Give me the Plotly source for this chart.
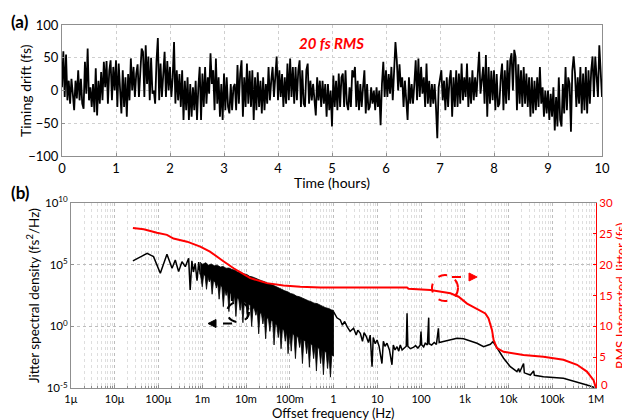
import plotly.graph_objects as go

# ---------------- panel (a): timing drift ----------------
drift_t0 = 0.0      # hours
drift_dt = 0.025    # hours per sample
drift_fs = [
    5, 60, -10, 55, -15, 15, -20, 18, -5, -30, 15, -12, 31, -15, 18, -20,
    -28, 44, -5, 64, -15, 5, -25, 10, -33, 34, -38, 15, -20, 28, -15, 44,
    5, 45, -20, 30, 46, -15, 36, 0, 46, -25, 41, -10, -35, 31, -25, 20,
    -40, 25, -15, 49, 0, 36, -10, 26, 40, -10, 30, 64, 59, -10, 69, 10,
    52, -15, 50, -5, 0, -20, 45, 80, -15, 41, -10, 30, 59, -10, 45, 0,
    36, -10, 20, 74, -20, 31, -15, 25, -25, 31, -45, 15, -30, 20, -45, 10,
    -40, 5, -30, 15, -45, 5, 36, -45, 26, -25, 36, -20, 20, -5, 57, 10,
    31, -30, 49, -20, 20, -40, 10, -45, 26, -30, 20, -25, -35, 10, -30, 5,
    10, -30, 39, -20, 26, 46, -40, 20, -25, 41, -20, 30, -25, 31, -45, 20,
    -30, 28, -25, 15, -35, 20, -30, 10, -20, 36, -15, 15, 36, -10, 30, 52,
    -15, 31, -10, 25, -25, 20, -20, 41, -15, 49, -10, 36, -20, 36, -15, 30,
    46, -25, 31, -20, -25, 31, 41, -20, 15, -15, 10, -10, -38, 20, -15, 15,
    -25, 15, -20, 10, -40, 10, -30, 0, -55, 23, -25, 15, -30, 26, -25, 20,
    26, -25, 31, -20, -30, 5, -25, 31, 20, 36, -25, 15, -30, 10, -25, 5,
    31, -35, 10, -30, -25, 5, -20, 0, -30, 5, -25, 0, -53, 10, 44, -10,
    31, -10, 25, -5, 36, -15, 30, 74, 46, 0, 40, 5, 20, -25, 15, -20,
    -45, 20, -20, 10, -20, 10, 46, -15, 49, -10, 36, -5, 20, -25, 41, -20,
    15, -25, 10, -20, 10, -25, -73, 5, 20, 31, -15, 15, -30, 20, -25, 15,
    31, -40, 20, -25, 31, -25, 26, -20, 41, -15, 20, -10, 41, -25, 20, -20,
    31, -15, 20, -10, 26, 59, -5, 20, 36, -20, 54, -40, 36, -20, 30, -15,
    31, -30, 25, -25, -20, 20, 41, -30, 31, -20, 46, -15, 46, 57, 0, 62,
    51, -30, 40, -20, 31, -25, 36, -20, 26, -25, 20, -40, 20, -35, 15, -30,
    20, -25, 36, -20, 5, -40, 0, -35, 0, -45, -5, -40, 5, -61, -10, -55,
    20, -45, -55, 10, -35, 36, -30, 20, 10, -63, 30, 52, 26, -25, 20, -20,
    36, -35, 26, -30, 36, -35, 31, -20, 30, 52, -10, 52, 20, -10, 69, 36,
    -10,
]

# ---------------- panel (b): RMS integrated jitter (right axis, fs) ----------------
rms_freq = [2.6e-5, 4.6e-5, 9.2e-5, 1.56e-4, 2.2e-4, 4.5e-4, 9e-4, 1.5e-3, 3.1e-3,
            5.2e-3, 0.0125, 0.030, 0.072, 0.174, 0.5, 48, 52, 163, 470, 724, 1130,
            1900, 2950, 3500, 4200, 4570, 5460, 7700, 22000, 63000, 1.8e5, 3.7e5,
            6.2e5, 8.8e5, 1e6]
rms_fs = [25.9, 25.7, 25.15, 24.8, 24.2, 23.7, 22.9, 22.1, 20.5,
          19.4, 17.8, 17.0, 16.6, 16.4, 16.3, 16.3, 16.1, 15.9, 15.35, 14.8, 13.7,
          12.9, 12.1, 11.3, 9.4, 7.8, 6.5, 5.9, 5.4, 5.1, 4.6, 3.8,
          2.7, 1.3, 0.0]

# ---------------- panel (b): jitter spectral density (left axis, log10 of fs^2/Hz) ----------------
psd_low_freq = [2.6e-5, 5.5e-5, 7.7e-5, 1.1e-4, 1.56e-4, 2.04e-4, 2.42e-4, 2.88e-4, 3.44e-4,
                4.1e-4, 4.88e-4, 5.3e-4, 5.8e-4, 6.3e-4, 6.9e-4, 7.6e-4, 8.3e-4, 9e-4]
psd_low_log = [5.3, 5.9, 5.64, 4.3, 5.83, 4.7, 5.37, 4.43, 5.23,
               4.83, 5.51, 2.95, 5.3, 4.4, 5.1, 3.7, 5.2, 4.2]

# dense region 1 mHz .. 1 Hz: upper envelope and lower (spiky) envelope
band_hi_freq = [9e-4, 1.0e-3, 1.2e-3, 1.4e-3, 1.6e-3, 1.9e-3, 2.2e-3, 2.6e-3, 3.0e-3, 3.5e-3,
                4.1e-3, 4.8e-3, 5.6e-3, 6.5e-3, 7.6e-3, 8.9e-3, 0.0104, 0.0121, 0.0141, 0.0165,
                0.0192, 0.0224, 0.0262, 0.0305, 0.0356, 0.0415, 0.0485, 0.0566, 0.066, 0.077,
                0.09, 0.105, 0.122, 0.143, 0.167, 0.195, 0.227, 0.265, 0.309, 0.36,
                0.42, 0.49, 0.57, 0.67, 0.78, 0.91, 1.0]
band_hi_log = [5.2, 5.0, 5.15, 4.95, 5.05, 4.9, 4.95, 4.8, 4.85, 4.7,
               4.72, 4.6, 4.55, 4.4, 4.38, 4.25, 4.2, 4.05, 4.0, 3.88,
               3.8, 3.7, 3.62, 3.5, 3.45, 3.33, 3.25, 3.1, 3.02, 2.88,
               2.8, 2.66, 2.6, 2.45, 2.4, 2.28, 2.2, 2.08, 2.0, 1.88,
               1.85, 1.7, 1.62, 1.5, 1.45, 1.33, 1.3]
band_lo_freq = [
    9.0e-4, 1.0e-3, 1.08e-3, 1.16e-3, 1.25e-3, 1.35e-3, 1.45e-3, 1.56e-3, 1.68e-3, 1.81e-3,
    1.95e-3, 2.1e-3, 2.26e-3, 2.43e-3, 2.61e-3, 2.81e-3, 3.03e-3, 3.26e-3, 3.51e-3, 3.78e-3,
    4.07e-3, 4.38e-3, 4.71e-3, 5.07e-3, 5.46e-3, 5.88e-3, 6.33e-3, 6.81e-3, 7.33e-3, 7.89e-3,
    8.5e-3, 9.15e-3,
    1.0e-2, 1.08e-2, 1.16e-2, 1.25e-2, 1.35e-2, 1.45e-2, 1.56e-2, 1.68e-2, 1.81e-2, 1.95e-2,
    2.1e-2, 2.26e-2, 2.43e-2, 2.61e-2, 2.81e-2, 3.03e-2, 3.26e-2, 3.51e-2, 3.78e-2, 4.07e-2,
    4.38e-2, 4.71e-2, 5.07e-2, 5.46e-2, 5.88e-2, 6.33e-2, 6.81e-2, 7.33e-2, 7.89e-2, 8.5e-2,
    9.15e-2,
    0.100, 0.108, 0.116, 0.125, 0.135, 0.145, 0.156, 0.168, 0.181, 0.195,
    0.21, 0.226, 0.243, 0.261, 0.281, 0.303, 0.326, 0.351, 0.378, 0.407,
    0.438, 0.471, 0.507, 0.546, 0.588, 0.633, 0.681, 0.733, 0.789, 0.85,
    0.915, 1.0,
]
band_lo_log = [
    4.3, 3.2, 4.2, 4.1, 3.0, 4.0, 3.6, 3.9, 2.6, 3.7,
    3.6, 3.1, 3.5, 2.2, 3.3, 3.2, 1.6, 3.0, 2.5, 2.9,
    1.2, 2.7, 2.6, 1.9, 2.5, 0.8, 2.3, 2.2, 1.3, 2.1,
    0.3, 2.0,
    1.9, 0.6, 1.8, 1.7, 0.0, 1.5, 1.4, 0.9, 1.3, -0.6,
    1.1, 1.0, 0.2, 0.9, -1.0, 0.7, 0.6, -0.4, 0.5, 0.4,
    -1.5, 0.2, 0.1, -0.9, 0.0, -1.8, -0.2, -0.3, -1.2, -0.4,
    -2.2,
    -0.5, -2.0, -0.6, -0.7, -2.6, -0.8, -0.9, -1.7, -1.0, -3.0,
    -1.1, -1.2, -2.2, -1.3, -3.3, -1.4, -1.5, -2.6, -1.6, -3.6,
    -1.7, -1.8, -3.0, -1.9, -3.9, -2.0, -2.1, -3.4, -2.2, -4.1,
    -2.3, -2.4,
]

psd_high_freq = [1.0, 1.2, 1.43, 1.6, 1.8, 2.04, 2.4, 2.88, 3.3, 3.6, 4.1, 4.6, 5.0, 5.6, 6.3,
                 6.9, 7.6, 8.1, 9.0, 9.9, 11, 12.8, 13.8, 15, 16.7, 19, 21.7, 23.3, 25.5, 28.3,
                 31, 33.6, 37, 40, 46, 48, 50, 57, 66.7, 75, 85, 96, 100, 104, 115, 125, 140,
                 150, 153, 175, 200, 225, 250, 260, 300, 329, 468, 665, 942, 1340, 1905, 2700,
                 3840, 4420, 5460, 7730, 11000, 15600, 17000, 18000, 22100, 23000, 31500,
                 37500, 39000, 63000, 1.8e5, 3.7e5, 6.2e5, 1e6]
psd_high_log = [1.19, 0.7, 0.52, 0.1, 0.4, -0.02, -0.4, -0.15, -0.7, -0.3, -0.55, -1.2, -0.5, -0.8, -1.3,
                -0.7, -3.25, -0.9, -1.4, -1.1, -1.6, -3.0, -1.2, -1.6, -1.36, -1.9, -3.1, -1.5, -1.9, -1.64,
                -2.0, -1.5, -1.9, -1.77, -1.6, 1.06, -1.6, -1.8, -1.7, -1.55, -1.75, -1.5, -0.42, -1.5, -1.65, -1.35, -1.5,
                0.71, -1.4, -1.5, -1.3, -1.45, -0.15, -1.3, -1.25, -1.23, -1.05, -0.96, -1.0, -1.15, -1.36, -1.64,
                -1.44, -1.23, -1.77, -2.57, -3.25, -3.66, -3.4, -3.7, -3.0, -3.75, -3.93,
                -3.6, -3.95, -4.06, -4.19, -4.47, -4.73, -4.98]

freq_tick_vals = [1e-6, 1e-5, 1e-4, 1e-3, 1e-2, 1e-1, 1, 10, 100, 1e3, 1e4, 1e5, 1e6]
freq_tick_text = ["1µ", "10µ", "100µ", "1m", "10m", "100m", "1", "10", "100", "1k", "10k", "100k", "1M"]
psd_tick_vals = [1e-5, 1, 1e5, 1e10]
psd_tick_text = ["10<sup>-5</sup>", "10<sup>0</sup>", "10<sup>5</sup>", "10<sup>10</sup>"]
rms_tick_vals = [0, 5, 10, 15, 20, 25, 30]
rms_tick_text = ["", "5", "10", "15", "20", "25", "30"]   # "0" drawn as a note, clear of "1M"

# ---------------- figure ----------------
FONT = "Lato, 'Open Sans', sans-serif"
GRID = "#cfcfcf"
FRAME = "#8f8f8f"
RED = "#ff0000"

# the page body adds an 8 px margin: lay out in window pixels and convert
OFF = 8
W, H = 630 - OFF, 420 - OFF

def PX(px):
    return (px - OFF) / W

def PY(py):
    return 1 - (py - OFF) / H

def P(px, py):
    return PX(px), PY(py)

fig = go.Figure()

fig.add_trace(go.Scatter(x0=drift_t0, dx=drift_dt, y=drift_fs, mode="lines",
                         line=dict(color="black", width=1.8), xaxis="x", yaxis="y",
                         showlegend=False))

band_x = band_hi_freq + band_lo_freq[::-1]
band_y = [10 ** v for v in band_hi_log] + [10 ** v for v in band_lo_log[::-1]]
fig.add_trace(go.Scatter(x=band_x, y=band_y, mode="lines", fill="toself", fillcolor="black",
                         line=dict(color="black", width=0.8), xaxis="x2", yaxis="y2",
                         showlegend=False))
fig.add_trace(go.Scatter(x=psd_low_freq, y=[10 ** v for v in psd_low_log], mode="lines",
                         line=dict(color="black", width=1.5), xaxis="x2", yaxis="y2",
                         showlegend=False))
fig.add_trace(go.Scatter(x=psd_high_freq, y=[10 ** v for v in psd_high_log], mode="lines",
                         line=dict(color="black", width=1.5), xaxis="x2", yaxis="y2",
                         showlegend=False))
fig.add_trace(go.Scatter(x=rms_freq, y=rms_fs, mode="lines",
                         line=dict(color=RED, width=2), xaxis="x2", yaxis="y3",
                         showlegend=False))

minor_vals = [m * 10 ** e for e in range(-6, 6) for m in range(2, 10)]

common = dict(showline=True, linecolor=FRAME, linewidth=1, ticks="inside", ticklen=3,
              tickcolor=FRAME, zeroline=False, automargin=False,
              tickfont=dict(family=FONT, size=13, color="black"))
small = dict(family=FONT, size=11, color="black")

fig.update_layout(
    width=W, height=H, autosize=False,
    margin=dict(l=0, r=0, t=0, b=0),
    paper_bgcolor="white", plot_bgcolor="white",
    font=dict(family=FONT, color="black"),
    xaxis=dict(domain=[PX(62), PX(602)], anchor="y", range=[0, 10], tick0=0, dtick=1,
               showgrid=True, gridcolor=GRID, griddash="dot", mirror=True, **common),
    yaxis=dict(domain=[PY(156), PY(25)], anchor="x", range=[-100, 100], tick0=-100,
               dtick=50, showgrid=True, gridcolor=GRID, griddash="dot", mirror=True, **common),
    xaxis2=dict(type="log", domain=[PX(71), PX(596)], anchor="y2", range=[-6, 6],
                tickmode="array", tickvals=freq_tick_vals, ticktext=freq_tick_text,
                showgrid=True, gridcolor="#bdbdbd", griddash="dot", mirror=True,
                minor=dict(tickvals=minor_vals, showgrid=True, gridcolor="#dedede",
                           griddash="dot", ticks="inside", ticklen=2, tickcolor=FRAME),
                **{**common, "tickfont": small}),
    yaxis2=dict(type="log", domain=[PY(388.3), PY(202.7)], anchor="x2", range=[-5, 10],
                tickmode="array", tickvals=psd_tick_vals, ticktext=psd_tick_text,
                showgrid=True, gridcolor="#bdbdbd", griddash="dot", mirror=False,
                **{**common, "tickfont": dict(family=FONT, size=11.5, color="black")}),
    yaxis3=dict(overlaying="y2", anchor="x2", side="right", range=[0, 30],
                tickmode="array", tickvals=rms_tick_vals, ticktext=rms_tick_text,
                showgrid=False, showline=True, linecolor=RED, linewidth=1, ticks="inside",
                ticklen=3, tickcolor=RED, zeroline=False, automargin=False,
                tickfont=dict(family=FONT, size=11.5, color=RED)),
)

def ann(text, px, py, size, color="black", angle=0, xanchor="center"):
    fig.add_annotation(text=text, x=PX(px), y=PY(py), xref="paper", yref="paper",
                       showarrow=False, xanchor=xanchor, yanchor="middle", textangle=angle,
                       font=dict(family=FONT, size=size, color=color))

ann("<b>(a)</b>", 20, 22, 17)
ann("<b>(b)</b>", 20, 192, 17)
ann("<b><i>20 fs RMS</i></b>", 331, 43, 15, RED)
ann("Timing drift (fs)", 25, 91, 14, angle=-90)
ann("Time (hours)", 332, 182, 14)
ann("Jitter spectral density (fs<sup>2</sup>/Hz)", 33, 296, 13.5, angle=-90)
ann("Offset frequency (Hz)", 333, 412.5, 13)
ann("RMS Integrated Jitter (fs)", 621, 296, 13.5, RED, angle=-90)
ann("0", 599, 384, 11.5, RED, xanchor="left")

# black dashed loop + left arrow
x0, y0 = P(227, 322); x1, y1 = P(249, 302)
fig.add_shape(type="circle", xref="paper", yref="paper", x0=x0, y0=y0, x1=x1, y1=y1,
              line=dict(color="black", width=2, dash="dash"))
a, b = P(232, 292); c, d = P(232, 303)
fig.add_shape(type="line", xref="paper", yref="paper", x0=a, y0=b, x1=c, y1=d,
              line=dict(color="black", width=2, dash="dash"))
a, b = P(232, 323.5); c, d = P(215, 323.5)
fig.add_shape(type="line", xref="paper", yref="paper", x0=a, y0=b, x1=c, y1=d,
              line=dict(color="black", width=2, dash="dash"))
t1 = P(208, 323.5); t2 = P(216, 319.5); t3 = P(216, 327.5)
fig.add_shape(type="path", xref="paper", yref="paper",
              path=f"M {t1[0]},{t1[1]} L {t2[0]},{t2[1]} L {t3[0]},{t3[1]} Z",
              fillcolor="black", line=dict(color="black", width=1))

# red dashed loop + right arrow
x0, y0 = P(432, 301); x1, y1 = P(458, 275)
fig.add_shape(type="circle", xref="paper", yref="paper", x0=x0, y0=y0, x1=x1, y1=y1,
              line=dict(color=RED, width=2, dash="dash"))
a, b = P(452, 277); c, d = P(469, 277)
fig.add_shape(type="line", xref="paper", yref="paper", x0=a, y0=b, x1=c, y1=d,
              line=dict(color=RED, width=2, dash="dash"))
t1 = P(477, 277); t2 = P(469, 273); t3 = P(469, 281)
fig.add_shape(type="path", xref="paper", yref="paper",
              path=f"M {t1[0]},{t1[1]} L {t2[0]},{t2[1]} L {t3[0]},{t3[1]} Z",
              fillcolor=RED, line=dict(color=RED, width=1))

fig.write_html("out.html")
